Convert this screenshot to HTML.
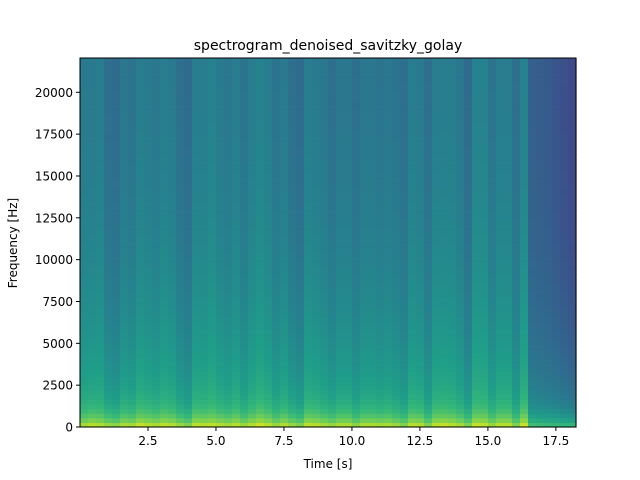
<!DOCTYPE html>
<html><head><meta charset="utf-8"><style>
body{margin:0;background:#fff;}
svg{display:block;font-family:"DejaVu Sans","Liberation Sans",sans-serif;}
</style></head><body>
<svg id="chart" width="640" height="480" viewBox="0 0 640 480">
<rect width="640" height="480" fill="#fff"/>
<text x="328" y="50" text-anchor="middle" font-size="14" fill="#000">spectrogram_denoised_savitzky_golay</text>
<g id="cells"></g>
<g id="axes"></g>
<text x="328" y="468" text-anchor="middle" font-size="12">Time [s]</text>
<text transform="translate(17,243) rotate(-90)" text-anchor="middle" font-size="12">Frequency [Hz]</text>
</svg>
<script>
// data
const tMax = 18.24;
const fMax = 22050;
const topLevels = [0.40,0.40,0.42,0.32,0.30,0.38,0.35,0.42,0.40,0.38,0.42,0.40,0.33,0.30,0.42,0.42,0.45,0.40,0.38,0.42,0.36,0.42,0.45,0.42,0.36,0.40,0.33,0.30,0.42,0.40,0.38,
0.33,0.38,0.38,0.33,0.38,0.38,0.36,0.38,0.36,0.33,0.42,0.40,0.33,0.42,0.42,0.42,0.38,0.30,0.45,0.45,0.36,0.42,0.42,0.33,0.45,
0.30,0.29,0.28,0.26,0.24,0.22];
const bottomLevels = [0.92,0.95,0.93,0.90,0.88,0.93,0.92,0.97,0.95,0.93,0.96,0.94,0.90,0.86,0.96,0.95,0.96,0.94,0.92,0.95,0.90,0.94,0.98,0.95,0.90,0.94,0.90,0.86,0.96,0.95,0.92,
0.90,0.93,0.93,0.88,0.93,0.93,0.92,0.93,0.90,0.86,0.95,0.94,0.86,0.96,0.97,0.95,0.92,0.86,0.97,0.96,0.90,0.95,0.95,0.86,0.98,
0.74,0.73,0.72,0.72,0.71,0.70];
const xTicks = [2.5,5.0,7.5,10.0,12.5,15.0,17.5];
const yTicks = [0,2500,5000,7500,10000,12500,15000,17500,20000];

const L=80,R=576,T=58,B=427;
const xs = t => L + t/tMax*(R-L);
const ys = f => B - f/fMax*(B-T);
const V=[[68,1,84],[72,40,120],[62,74,137],[49,104,142],[38,130,142],[31,158,137],[53,183,121],[109,205,89],[180,222,44],[253,231,37]];
function viridis(v){v=Math.max(0,Math.min(1,v))*9;const i=Math.min(8,Math.floor(v)),f=v-i;const a=V[i],b=V[i+1];
return `rgb(${a.map((c,k)=>Math.round(c+(b[k]-c)*f)).join(',')})`;}
const NS='http://www.w3.org/2000/svg';
const cells=document.getElementById('cells');
const n=topLevels.length, dt=tMax/n, nb=80, df=fMax/nb;
for(let c=0;c<n;c++){
  const x0=xs(c*dt), x1=xs((c+1)*dt);
  const quiet = bottomLevels[c] < 0.8;
  const top = quiet ? topLevels[c] : 0.39 + (topLevels[c]-0.39)*0.65;
  for(let b=0;b<nb;b++){
    const f=(b+0.5)*df;
    const bot=bottomLevels[c];
    const v=top+(bot-top)*(0.55*Math.exp(-f/700)+0.45*Math.exp(-f/(quiet?5000:7500)));
    const r=document.createElementNS(NS,'rect');
    r.setAttribute('x',x0);r.setAttribute('width',x1-x0+0.6);
    r.setAttribute('y',ys((b+1)*df));r.setAttribute('height',ys(b*df)-ys((b+1)*df)+0.6);
    r.setAttribute('fill',viridis(v));
    
    
    cells.appendChild(r);
  }
}
const ax=document.getElementById('axes');
let h=`<rect x="${L}" y="${T}" width="${R-L}" height="${B-T}" fill="none" stroke="#000" stroke-width="1"/>`;
xTicks.forEach(t=>{const x=xs(t);h+=`<line x1="${x}" y1="${B}" x2="${x}" y2="${B+4}" stroke="#000"/><text x="${x}" y="${B+18}" text-anchor="middle" font-size="12">${t.toFixed(1)}</text>`;});
yTicks.forEach(f=>{const y=ys(f);h+=`<line x1="${L-4}" y1="${y}" x2="${L}" y2="${y}" stroke="#000"/><text x="${L-7}" y="${y+4.5}" text-anchor="end" font-size="12">${f}</text>`;});
ax.innerHTML=h;
ax.querySelectorAll('line').forEach(e=>{

});
ax.querySelectorAll('text').forEach(e=>{

});
</script>
</body></html>
